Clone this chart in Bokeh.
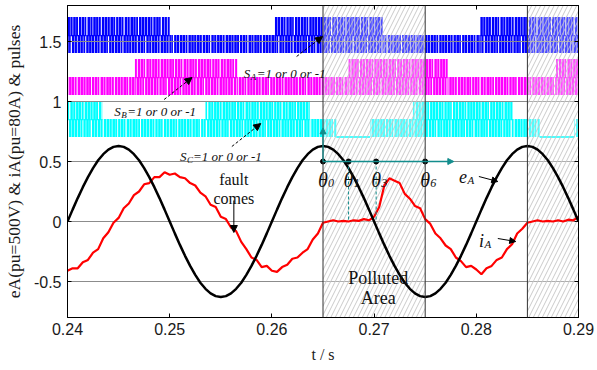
from bokeh.plotting import figure
from bokeh.models import (Range1d, FixedTicker, LinearAxis, Label, Arrow, NormalHead,
                          Span, CustomJSTickFormatter)
from bokeh.embed import file_html
from bokeh.resources import INLINE

# ---------------- data ----------------
t_start, t_step = 0.24, 0.0005
eA = [0, 0.099, 0.195, 0.286, 0.370, 0.445, 0.510, 0.561, 0.599, 0.622,
      0.630, 0.622, 0.599, 0.561, 0.510, 0.445, 0.370, 0.286, 0.195, 0.099,
      0, -0.099, -0.195, -0.286, -0.370, -0.445, -0.510, -0.561, -0.599, -0.622,
      -0.630, -0.622, -0.599, -0.561, -0.510, -0.445, -0.370, -0.286, -0.195, -0.099,
      0, 0.099, 0.195, 0.286, 0.370, 0.445, 0.510, 0.561, 0.599, 0.622,
      0.630, 0.622, 0.599, 0.561, 0.510, 0.445, 0.370, 0.286, 0.195, 0.099,
      0, -0.099, -0.195, -0.286, -0.370, -0.445, -0.510, -0.561, -0.599, -0.622,
      -0.630, -0.622, -0.599, -0.561, -0.510, -0.445, -0.370, -0.286, -0.195, -0.099,
      0, 0.099, 0.195, 0.286, 0.370, 0.445, 0.510, 0.561, 0.599, 0.622,
      0.630, 0.622, 0.599, 0.561, 0.510, 0.445, 0.370, 0.286, 0.195, 0.099, 0]
iA = [-0.41, -0.39, -0.39, -0.34, -0.32, -0.26, -0.23, -0.14, -0.09, -0.01,
      0.03, 0.11, 0.15, 0.22, 0.25, 0.31, 0.32, 0.37, 0.37, 0.41,
      0.39, 0.40, 0.37, 0.36, 0.32, 0.30, 0.24, 0.21, 0.14, 0.12,
      0.04, 0.02, -0.05, -0.08, -0.17, -0.23, -0.30, -0.32, -0.38, -0.37,
      -0.41, -0.42, -0.38, -0.36, -0.31, -0.30, -0.26, -0.23, -0.15, -0.10,
      -0.01, 0.00, 0.01, 0.00, 0.005, 0.00, 0.01, 0.005, 0.02, 0.01,
      0.04, 0.12, 0.30, 0.36, 0.34, 0.32, 0.23, 0.19, 0.13, 0.11,
      0.02, -0.02, -0.10, -0.14, -0.20, -0.23, -0.30, -0.33, -0.38, -0.37,
      -0.40, -0.44, -0.39, -0.37, -0.32, -0.30, -0.23, -0.19, -0.10, -0.06,
      -0.01, 0.00, 0.01, 0.00, 0.005, 0.00, 0.01, 0.00, 0.015, 0.01, 0.04]
t = [t_start + i * t_step for i in range(len(eA))]

# switching states (1 = upper+lower pulsing, -1 = lower pulsing, 0 = idle at -1)
SA_edges = [0.24, 0.2500, 0.2603, 0.2709, 0.2804, 0.29]
SA_states = [1, -1, 1, -1, 1]
SB_edges = [0.24, 0.2466, 0.2566, 0.2675, 0.2772, 0.2878, 0.29]
SB_states = [-1, 1, -1, 1, -1, 1]
SC_edges = [0.24, 0.2434, 0.2535, 0.2637, 0.2663, 0.2696, 0.2738, 0.2836, 0.2862, 0.2896, 0.29]
SC_states = [1, -1, 1, -1, 0, -1, 1, -1, 0, -1]

theta_t = [0.265, 0.2675, 0.2702, 0.275]
theta_names = ["0", "1", "3", "6"]
polluted_start = [0.265, 0.285]
polluted_end = [0.275, 0.29]
fault_lines = [0.265, 0.275, 0.285]

x_ticks = [0.24, 0.25, 0.26, 0.27, 0.28, 0.29]
x_tick_labels = ["0.24", "0.25", "0.26", "0.27", "0.28", "0.29"]
y_ticks = [-0.5, 0, 0.5, 1, 1.5]
y_tick_labels = ["-0.5", "0", "0.5", "1", "1.5"]

# ---------------- figure ----------------
p = figure(width=597, height=370, output_backend="svg", toolbar_location=None,
           x_range=Range1d(0.24, 0.29), y_range=Range1d(-0.8, 1.8),
           min_border_left=65, min_border_right=19, min_border_top=5, min_border_bottom=53)
p.background_fill_color = "white"
p.outline_line_color = "black"
p.outline_line_width = 1
p.xgrid.grid_line_color = None
p.ygrid.ticker = FixedTicker(ticks=y_ticks)
p.ygrid.grid_line_color = "#8c8c8c"
p.ygrid.grid_line_width = 1

sans = "Liberation Sans"
serif = "Liberation Serif"

p.xaxis.ticker = FixedTicker(ticks=x_ticks)
p.xaxis.formatter = CustomJSTickFormatter(code="return tick.toFixed(2)")
p.xaxis.major_label_overrides = dict(zip(x_ticks, x_tick_labels))
p.yaxis.ticker = FixedTicker(ticks=y_ticks)
p.yaxis.formatter = CustomJSTickFormatter(code="return tick.toString()")
p.yaxis.major_label_overrides = dict(zip(y_ticks, y_tick_labels))
for ax in (p.xaxis[0], p.yaxis[0]):
    ax.major_tick_in = 4
    ax.major_tick_out = 0
    ax.minor_tick_line_color = None
    ax.major_label_text_font = sans
    ax.major_label_text_font_size = "16px"
    ax.major_label_text_color = "#1a1a1a"
    ax.axis_label_text_font = serif
    ax.axis_label_text_font_style = "normal"
    ax.axis_label_text_color = "#1a1a1a"
    ax.axis_line_color = "black"
p.xaxis.major_label_standoff = 5
p.yaxis.major_label_standoff = 6
p.xaxis.axis_label = "t / s"
p.xaxis.axis_label_text_font_size = "16px"
p.xaxis.axis_label_standoff = 8
p.yaxis.axis_label = "eA(pu=500V) & iA(pu=80A) & pulses"
p.yaxis.axis_label_text_font_size = "17.5px"
p.yaxis.axis_label_standoff = 7

blank = CustomJSTickFormatter(code="return ''")
top_ax = LinearAxis(ticker=FixedTicker(ticks=x_ticks), formatter=blank, major_tick_in=4,
                    major_tick_out=0, minor_tick_line_color=None, major_label_standoff=0,
                    major_label_text_font_size="0px")
right_ax = LinearAxis(ticker=FixedTicker(ticks=y_ticks), formatter=blank, major_tick_in=4,
                      major_tick_out=0, minor_tick_line_color=None, major_label_standoff=0,
                      major_label_text_font_size="0px")
p.add_layout(top_ax, "above")
p.add_layout(right_ax, "right")

# ---------------- pulses ----------------
offsets = [1.555, 1.205, 0.855]
amp = 0.15
colors = ["#0000ff", "#ff00ff", "#00ffff"]
Ts = 0.00028
gap_pattern = [0.00004, 0.00006, 0.00003, 0.00009, 0.00005, 0.00003, 0.00012,
               0.00004, 0.00007, 0.00003, 0.00005, 0.0001, 0.00004]

L, R, B, T, C = [], [], [], [], []
idle_x0, idle_x1, idle_y, idle_c = [], [], [], []
for pi, (edges, states, off, col) in enumerate(zip([SA_edges, SB_edges, SC_edges],
                                                   [SA_states, SB_states, SC_states], offsets, colors)):
    for a, b, s in zip(edges[:-1], edges[1:], states):
        if s == 0:
            idle_x0.append(a); idle_x1.append(b); idle_y.append(off - amp); idle_c.append(col)
            continue
        halves = [(off - amp, off, 0.45, 5)]
        if s == 1:
            halves.append((off - 0.012, off + amp, 0.0, 0))
        for (lo, hi, frac, kshift) in halves:
            k = 0
            x = a - frac * Ts
            while x < b:
                g = gap_pattern[(k + kshift + 3 * pi) % len(gap_pattern)]
                l0 = max(x, a)
                r0 = min(x + Ts - g, b)
                if r0 > l0:
                    L.append(l0); R.append(r0); B.append(lo); T.append(hi); C.append(col)
                x += Ts
                k += 1

pr = p.quad(left=L, right=R, bottom=B, top=T, fill_color=C, line_color=None)
pr.level = "image"
ir = p.segment(x0=idle_x0, x1=idle_x1, y0=idle_y, y1=idle_y, line_color=idle_c, line_width=2)
ir.level = "image"

# polluted areas (hatched)
p.quad(left=polluted_start, right=polluted_end, bottom=-0.8, top=1.8,
       fill_color="white", fill_alpha=0.3, line_color=None,
       hatch_pattern="/", hatch_color="#c4c4c4", hatch_scale=9, hatch_weight=0.9)

for xv in fault_lines:
    p.add_layout(Span(location=xv, dimension="height", line_color="#333333", line_width=1))

# curves
p.line(t, iA, line_color="#ff0000", line_width=2.2)
p.line(t, eA, line_color="black", line_width=2.5)

teal = "#138d8d"
p.segment(x0=theta_t[1:3], x1=theta_t[1:3], y0=[0.5, 0.5], y1=[0, 0],
          line_color=teal, line_dash="3 2", line_width=1)
p.add_layout(Arrow(x_start=0.265, y_start=0.5, x_end=0.2778, y_end=0.5, line_color=teal,
                   line_width=1.3, end=NormalHead(size=6, fill_color=teal, line_color=teal)))
p.add_layout(Arrow(x_start=0.265, y_start=0.5, x_end=0.265, y_end=0.78, line_color=teal,
                   line_width=1.3, end=NormalHead(size=6, fill_color=teal, line_color=teal)))
p.scatter(theta_t, [0.5] * len(theta_t), size=5, color="black")


# ---------------- annotations ----------------
def d(xp, yp):
    return 0.24 + (xp - 65) / 10260.0, (221 - yp) / 120.0


def lab(xp, yp, text, size, style="normal", align="left", xo=0, yo=0, font=serif, color="#111111"):
    x, y = d(xp, yp)
    p.add_layout(Label(x=x, y=y, text=text, text_font=font, text_font_size=f"{size}px",
                       text_font_style=style, text_color=color, text_align=align,
                       text_baseline="alphabetic", x_offset=xo, y_offset=yo))


def arrow(x0, y0, x1, y1, dash="solid", size=7):
    a0 = d(x0, y0)
    a1 = d(x1, y1)
    p.add_layout(Arrow(x_start=a0[0], y_start=a0[1], x_end=a1[0], y_end=a1[1],
                       line_color="black", line_width=1, line_dash=dash,
                       end=NormalHead(size=size, fill_color="black", line_color="black")))


for (xp, yp, letter) in [(242, 73, "A"), (112, 111, "B"), (178, 156, "C")]:
    lab(xp, yp, "S", 13, "italic")
    lab(xp, yp, letter, 9, "italic", xo=7, yo=-3)
    lab(xp, yp, "=1 or 0 or -1", 13, "italic", xo=13)

arrow(295, 56, 321, 36, dash="3 2")
arrow(162, 99, 190, 77, dash="3 2")
arrow(230, 146, 259, 123, dash="3 2")

lab(232, 179, "fault", 16, align="center")
lab(232, 198, "comes", 16, align="center")
arrow(232, 200, 232, 232)

lab(377, 277, "Polluted", 18, align="center")
lab(377, 297, "Area", 18, align="center")

for tt, nm in zip(theta_t, theta_names):
    xp = 65 + (tt - 0.24) * 10260 - 5
    lab(xp, 179, "\u03b8", 20, "italic")
    lab(xp, 179, nm, 12, "italic", xo=10, yo=-3)

lab(458, 176, "e", 18, "italic")
lab(458, 176, "A", 11, "italic", xo=8.5, yo=-3)
arrow(478, 176, 497, 181, size=6)
lab(478, 240, "i", 18, "italic")
lab(478, 240, "A", 11, "italic", xo=5.5, yo=-3)
arrow(497, 238, 515, 241, size=6)

open("out.html", "w").write(file_html(p, INLINE))
